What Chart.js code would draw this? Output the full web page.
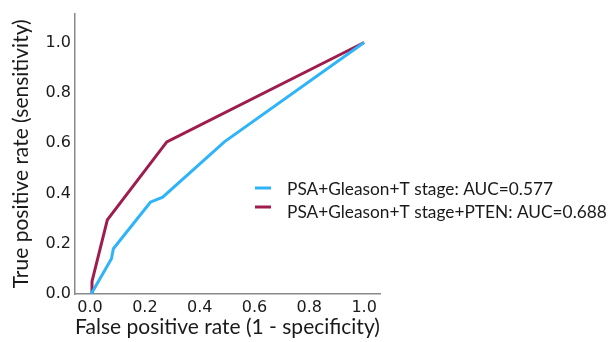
<!DOCTYPE html>
<html>
<head>
<meta charset="utf-8">
<script src="https://cdn.jsdelivr.net/npm/chart.js@4/dist/chart.umd.min.js"></script>
<style>
  html, body { margin: 0; padding: 0; background: #fff; }
  #wrap { width: 613px; height: 342px; }
</style>
</head>
<body>
<div id="wrap"><canvas id="rocChart"></canvas></div>
<script>
// ROC curve points
const fprBase = [0.0, 0.004, 0.078, 0.085, 0.22, 0.265, 0.49, 1.0];
const tprBase = [0.0, 0.0, 0.14, 0.18, 0.365, 0.385, 0.605, 1.0];
const fprPten = [0.0, 0.004, 0.007, 0.063, 0.28, 1.0];
const tprPten = [0.0, 0.0, 0.05, 0.295, 0.605, 1.0];

const seriesLabels = ['PSA+Gleason+T stage: AUC=0.577', 'PSA+Gleason+T stage+PTEN: AUC=0.688'];
const seriesColors = ['#2fb4fa', '#9e1c4e'];
const tickValues = [0.0, 0.2, 0.4, 0.6, 0.8, 1.0];

function toPoints(xs, ys) {
    return xs.map((x, i) => ({ x: x, y: ys[i] }));
}

// Legend drawn over the plot, to the right, like the original
const sideLegend = {
    id: 'sideLegend',
    afterDraw(chart) {
        const c = chart.ctx;
        c.save();
        c.font = '17.3px Lato';
        c.textBaseline = 'middle';
        chart.data.datasets.forEach((ds, i) => {
            const yLine = 188 + i * 19;
            const yText = 189 + i * 23;
            c.strokeStyle = ds.borderColor;
            c.lineWidth = 3;
            c.beginPath();
            c.moveTo(255, yLine);
            c.lineTo(271, yLine);
            c.stroke();
            c.fillStyle = '#1a1a1a';
            c.fillText(ds.label, 287, yText);
        });
        c.restore();
    }
};

const ctx = document.getElementById('rocChart').getContext('2d');
new Chart(ctx, {
    type: 'scatter',
    data: {
        datasets: [
            {
                label: seriesLabels[0],
                data: toPoints(fprBase, tprBase),
                borderColor: seriesColors[0],
                showLine: true,
                borderWidth: 3,
                pointRadius: 0,
                tension: 0
            },
            {
                label: seriesLabels[1],
                data: toPoints(fprPten, tprPten),
                borderColor: seriesColors[1],
                showLine: true,
                borderWidth: 3,
                pointRadius: 0,
                tension: 0
            }
        ]
    },
    options: {
        responsive: true,
        maintainAspectRatio: false,
        animation: false,
        layout: { padding: { top: 12, right: 233, left: 0, bottom: 0 } },
        plugins: {
            legend: { display: false },
            tooltip: { enabled: false }
        },
        scales: {
            x: {
                type: 'linear',
                min: -0.055,
                max: 1.058,
                afterBuildTicks: (axis) => { axis.ticks = tickValues.map(v => ({ value: v })); },
                afterFit: (axis) => { axis.height = 48; },
                grid: { display: false, drawTicks: false },
                border: { display: true, color: '#8a8a8a', width: 1.5 },
                ticks: {
                    padding: 4,
                    color: '#1a1a1a',
                    font: { family: 'DejaVu Sans', size: 16 },
                    callback: (v) => v.toFixed(1)
                },
                title: {
                    display: true,
                    text: 'False positive rate (1 - specificity)',
                    color: '#1a1a1a',
                    font: { family: 'Lato', size: 21 },
                    padding: { top: 0, bottom: 2 }
                }
            },
            y: {
                type: 'linear',
                min: 0,
                max: 1.115,
                afterBuildTicks: (axis) => { axis.ticks = tickValues.map(v => ({ value: v })); },
                afterFit: (axis) => { axis.width = 75; },
                grid: { display: false, drawTicks: false },
                border: { display: true, color: '#8a8a8a', width: 1.5 },
                ticks: {
                    padding: 4,
                    color: '#1a1a1a',
                    font: { family: 'DejaVu Sans', size: 16 },
                    callback: (v) => v.toFixed(1)
                },
                title: {
                    display: true,
                    text: 'True positive rate (sensitivity)',
                    color: '#1a1a1a',
                    font: { family: 'Lato', size: 21 },
                    padding: { top: 9, bottom: 0 }
                }
            }
        }
    },
    plugins: [sideLegend]
});
</script>
</body>
</html>
